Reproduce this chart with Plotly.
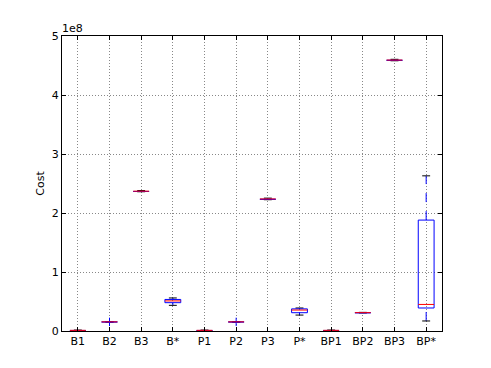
import plotly.graph_objects as go

categories = ["B1", "B2", "B3", "B*", "P1", "P2", "P3", "P*", "BP1", "BP2", "BP3", "BP*"]
lower_whisker = [0.6e6, 1.50e7, 2.360e8, 0.435e8, 0.6e6, 1.50e7, 2.225e8, 0.27e8, 0.6e6, 3.06e7, 4.580e8, 0.17e8]
q1 = [0.9e6, 1.53e7, 2.365e8, 0.480e8, 0.9e6, 1.53e7, 2.232e8, 0.31e8, 0.9e6, 3.09e7, 4.588e8, 0.39e8]
median = [1.1e6, 1.55e7, 2.370e8, 0.510e8, 1.1e6, 1.55e7, 2.238e8, 0.355e8, 1.1e6, 3.11e7, 4.592e8, 0.45e8]
q3 = [1.3e6, 1.57e7, 2.375e8, 0.535e8, 1.3e6, 1.57e7, 2.244e8, 0.375e8, 1.3e6, 3.13e7, 4.596e8, 1.88e8]
upper_whisker = [1.6e6, 1.60e7, 2.380e8, 0.560e8, 1.6e6, 1.60e7, 2.252e8, 0.39e8, 1.6e6, 3.16e7, 4.605e8, 2.63e8]
flier_cat = ["B2", "P2"]
flier_val = [1.55e7, 1.55e7]
ytick_vals = [0, 1e8, 2e8, 3e8, 4e8, 5e8]
ytick_text = ["0", "1", "2", "3", "4", "5"]

pos = list(range(1, len(categories) + 1))
hw = 0.25   # half box width
cw = 0.125  # half cap width

bx, by, wx, wy, cx, cy, mx, my = [], [], [], [], [], [], [], []
for p, lo, a, m, b, hi in zip(pos, lower_whisker, q1, median, q3, upper_whisker):
    bx += [p - hw, p + hw, p + hw, p - hw, p - hw, None]
    by += [a, a, b, b, a, None]
    wx += [p, p, None, p, p, None]
    wy += [lo, a, None, b, hi, None]
    cx += [p - cw, p + cw, None, p - cw, p + cw, None]
    cy += [lo, lo, None, hi, hi, None]
    mx += [p - hw, p + hw, None]
    my += [m, m, None]

fx = [pos[categories.index(c)] for c in flier_cat]

fig = go.Figure()
fig.add_trace(go.Scatter(x=wx, y=wy, mode="lines", line=dict(color="blue", width=1, dash="dash"), hoverinfo="skip"))
fig.add_trace(go.Scatter(x=cx, y=cy, mode="lines", line=dict(color="black", width=1), hoverinfo="skip"))
fig.add_trace(go.Scatter(x=bx, y=by, mode="lines", line=dict(color="blue", width=1), hoverinfo="skip"))
fig.add_trace(go.Scatter(x=fx, y=flier_val, mode="markers",
                         marker=dict(symbol="cross-thin", size=6, line=dict(color="blue", width=1)), hoverinfo="skip"))
fig.add_trace(go.Scatter(x=mx, y=my, mode="lines", line=dict(color="red", width=1), hoverinfo="skip"))

axis_common = dict(showline=True, linecolor="black", linewidth=1, mirror="ticks",
                   ticks="inside", ticklen=4, tickcolor="black",
                   showgrid=True, gridcolor="#888888", griddash="1px,2px", gridwidth=1,
                   zeroline=False, tickfont=dict(family="DejaVu Sans", size=11, color="black"))

fig.update_layout(
    width=491, height=368,
    margin=dict(l=54, r=57, t=28, b=45),
    paper_bgcolor="white", plot_bgcolor="white",
    showlegend=False,
    font=dict(family="DejaVu Sans", size=11, color="black"),
    xaxis=dict(range=[0.5, len(categories) + 0.5], tickvals=pos, ticktext=categories, **axis_common),
    yaxis=dict(range=[0, 5e8], tickvals=ytick_vals, ticktext=ytick_text,
               title=dict(text="Cost", font=dict(family="DejaVu Sans", size=11), standoff=4), **axis_common),
    annotations=[dict(text="1e8", xref="paper", yref="paper", x=0, y=1, xanchor="left", yanchor="bottom",
                      xshift=-2, yshift=-1,
                      showarrow=False, font=dict(family="DejaVu Sans", size=11, color="black"))],
)

fig.write_html("out.html")
